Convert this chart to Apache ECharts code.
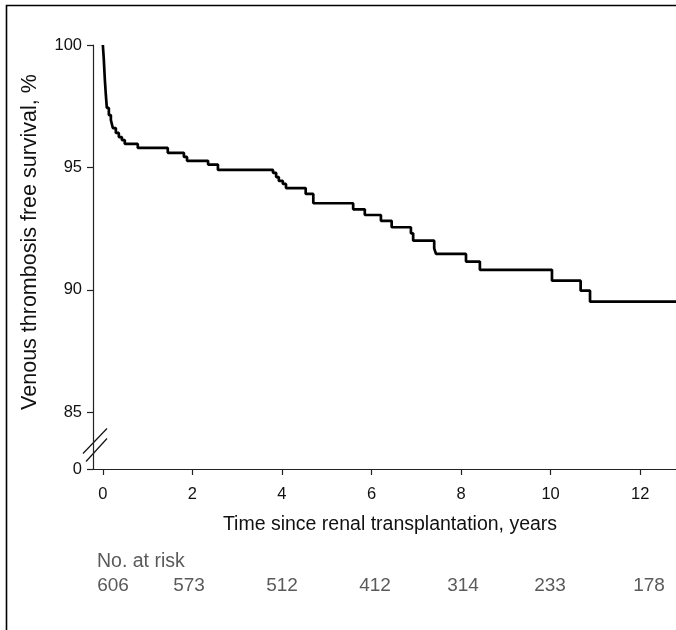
<!DOCTYPE html>
<html><head><meta charset="utf-8">
<script src="https://cdn.jsdelivr.net/npm/echarts@6/dist/echarts.min.js"></script>
<style>html,body{margin:0;padding:0;background:#fff}#c{width:676px;height:630px}</style>
</head><body><div id="c"></div>
<script>
const times = [0, 0.022, 0.045, 0.067, 0.089, 0.134, 0.179, 0.223, 0.29, 0.357, 0.425, 0.49, 0.78, 1.45, 1.81, 1.88, 2.35, 2.57, 3.80, 3.87, 3.93, 4.02, 4.09, 4.53, 4.70, 5.59, 5.85, 6.21, 6.45, 6.88, 6.93, 7.40, 7.44, 8.11, 8.42, 10.03, 10.67, 10.88, 12.80];
const survival = [100, 99.39, 98.57, 97.96, 97.43, 97.14, 96.94, 96.61, 96.41, 96.24, 96.12, 95.96, 95.80, 95.60, 95.43, 95.27, 95.12, 94.90, 94.78, 94.61, 94.45, 94.33, 94.16, 93.92, 93.54, 93.29, 93.06, 92.82, 92.56, 92.31, 92.01, 91.70, 91.47, 91.16, 90.82, 90.38, 89.97, 89.52, 89.52];
const xTicks = [0, 2, 4, 6, 8, 10, 12];
const yTicks = [85, 90, 95, 100];
const yBreakLabel = '0';
const riskTitle = 'No. at risk';
const riskCounts = [606, 573, 512, 412, 314, 233, 178];
const xTitle = 'Time since renal transplantation, years';
const yTitle = 'Venous thrombosis free survival, %';

const FONT = '"Liberation Sans", Arial, sans-serif';
const yMin = 82.69, yMax = 100;
const chart = echarts.init(document.getElementById('c'), null, {renderer: 'canvas'});
const data = times.map((t, i) => [t, survival[i]]);
const yVals = [yMin].concat(yTicks);

chart.setOption({
  animation: false,
  backgroundColor: '#fff',
  grid: {left: 93, right: 0, top: 45, height: 424},
  xAxis: {
    type: 'value', min: -0.22, max: 12.8,
    splitLine: {show: false},
    axisLine: {onZero: false, lineStyle: {color: '#222', width: 1.2}},
    axisTick: {customValues: xTicks, length: 6, lineStyle: {color: '#222', width: 1.2}},
    axisLabel: {customValues: xTicks, margin: 17, fontSize: 16.5, color: '#111', fontFamily: FONT}
  },
  yAxis: {
    type: 'value', min: yMin, max: yMax,
    splitLine: {show: false},
    axisLine: {show: true, onZero: false, lineStyle: {color: '#222', width: 1.2}},
    axisTick: {show: true, customValues: yVals, length: 6, lineStyle: {color: '#222', width: 1.2}},
    axisLabel: {customValues: yVals, margin: 11, fontSize: 16.5, color: '#111', fontFamily: FONT,
      formatter: v => (v < 84 ? yBreakLabel : String(Math.round(v)))}
  },
  series: [{
    type: 'line', step: 'end', data: data, symbol: 'none',
    lineStyle: {color: '#000', width: 2.7}
  }]
});

const ax = 93;
const yb = chart.convertToPixel({yAxisIndex: 0}, 83.65);
const riskX = [113, 189, 282, 375, 463, 550, 649];
const graphics = [
  {type: 'rect', shape: {x: 6.5, y: 5.5, width: 720, height: 720}, style: {fill: null, stroke: '#000', lineWidth: 1.6}, silent: true},
  {type: 'line', shape: {x1: ax - 10, y1: yb + 8, x2: ax + 14, y2: yb - 17}, style: {stroke: '#111', lineWidth: 1.2}},
  {type: 'line', shape: {x1: ax - 7, y1: yb + 16, x2: ax + 14, y2: yb - 7}, style: {stroke: '#111', lineWidth: 1.2}},
  {type: 'text', x: 390, y: 525, style: {text: xTitle, font: '19.5px ' + FONT, fill: '#111', align: 'center', verticalAlign: 'middle'}},
  {type: 'text', x: 30, y: 242, rotation: Math.PI / 2, style: {text: yTitle, font: '21.5px ' + FONT, fill: '#111', align: 'center', verticalAlign: 'middle'}},
  {type: 'text', x: 97, y: 562, style: {text: riskTitle, font: '19.5px ' + FONT, fill: '#5a5a5a', align: 'left', verticalAlign: 'middle'}}
];
riskCounts.forEach((n, i) => {
  graphics.push({type: 'text', x: riskX[i], y: 586, style: {text: String(n), font: '19px ' + FONT, fill: '#5a5a5a', align: 'center', verticalAlign: 'middle'}});
});
chart.setOption({graphic: graphics});
</script>
</body></html>
